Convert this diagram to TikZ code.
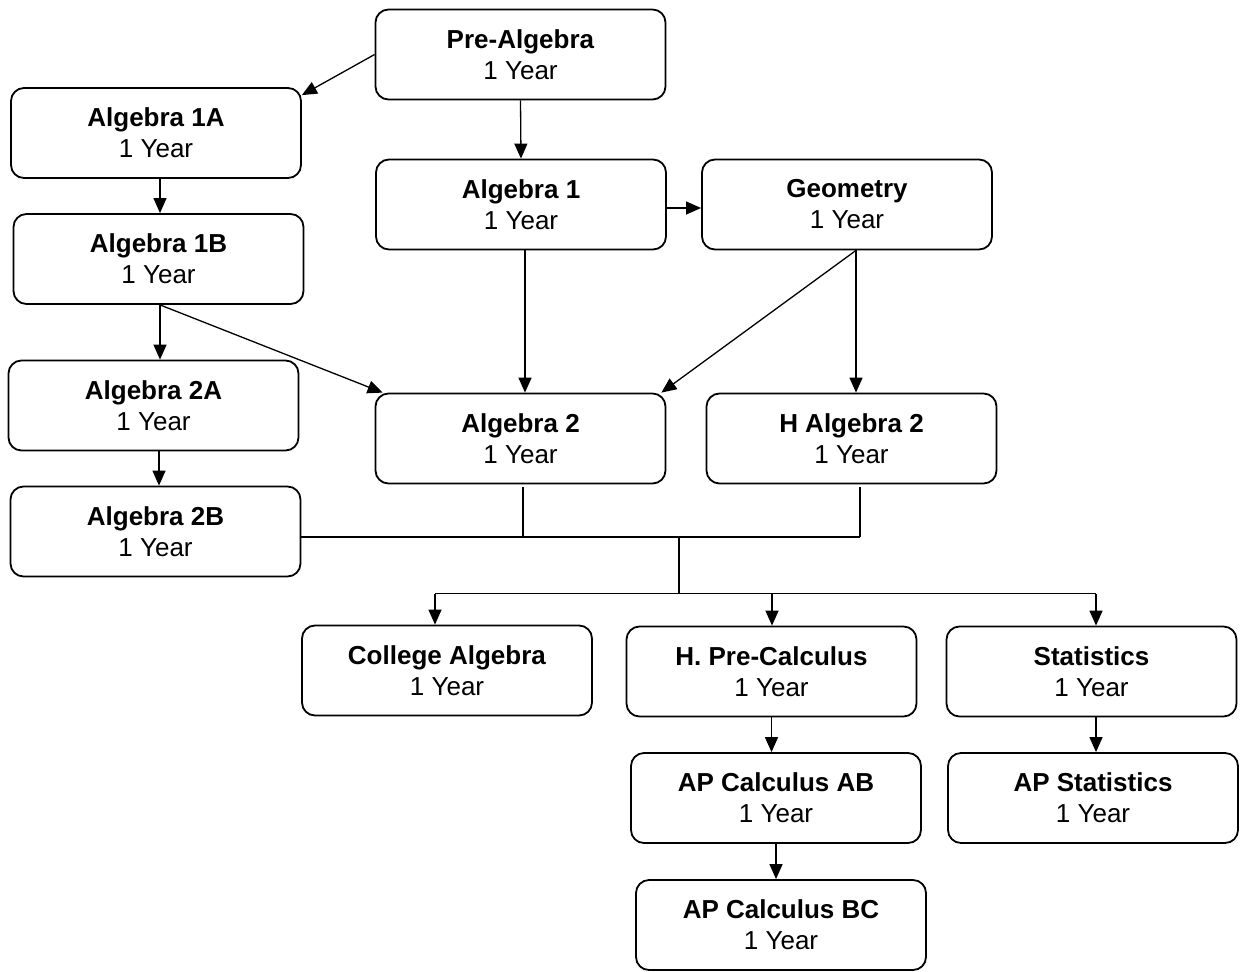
\documentclass[tikz,border=0pt]{standalone}
\usepackage{fontspec}
\setmainfont{Liberation Sans}
\usetikzlibrary{arrows.meta,calc}
\begin{document}
\begin{tikzpicture}[x=1pt,y=-1pt,
  course/.style={draw=black,line width=1.8pt,rounded corners=13pt,minimum width=290pt,minimum height=90pt,
    align=center,inner sep=0pt,font=\fontsize{26}{31}\selectfont},
  conn/.style={draw=black,line width=1.3pt},
  arr/.style={conn,-{Triangle[length=15pt,width=13pt]}}]
\useasboundingbox (0,0) rectangle (1246,971);
\node[course] (pa) at (520.5,54.5) {\textbf{Pre-Algebra}\\1 Year};
\node[course] (a1a) at (156,133) {\textbf{Algebra 1A}\\1 Year};
\node[course] (a1b) at (158.5,259) {\textbf{Algebra 1B}\\1 Year};
\node[course] (a1) at (521,204.5) {\textbf{Algebra 1}\\1 Year};
\node[course] (geo) at (847,204.5) {\textbf{Geometry}\\1 Year};
\node[course] (a2a) at (153.5,405.5) {\textbf{Algebra 2A}\\1 Year};
\node[course] (a2) at (520.5,438.5) {\textbf{Algebra 2}\\1 Year};
\node[course] (ha2) at (851.5,438.5) {\textbf{H Algebra 2}\\1 Year};
\node[course] (a2b) at (155.5,531.5) {\textbf{Algebra 2B}\\1 Year};
\node[course] (ca) at (447,670.5) {\textbf{College Algebra}\\1 Year};
\node[course] (hpc) at (771.5,671.5) {\textbf{H. Pre-Calculus}\\1 Year};
\node[course] (st) at (1091.5,671.5) {\textbf{Statistics}\\1 Year};
\node[course] (ab) at (776,798) {\textbf{AP Calculus AB}\\1 Year};
\node[course] (aps) at (1093,798) {\textbf{AP Statistics}\\1 Year};
\node[course] (bc) at (781,925) {\textbf{AP Calculus BC}\\1 Year};
% helper coordinates
\coordinate (s1a) at ($(a1a.south)+(4,0)$);
\coordinate (e1) at ($(a1.east)+(0,3.5)$);
\coordinate (s1b) at ($(a1b.south)+(1.5,0)$);
\coordinate (s1) at ($(a1.south)+(4,0)$);
\coordinate (gs) at ($(geo.south)+(9,0)$);
\coordinate (s2a) at ($(a2a.south)+(5.5,0)$);
\coordinate (sst) at ($(st.south)+(4.5,0)$);
% connectors
\draw[arr] (pa.west) -- ($(a1a.north east)+(0,8)$);
\draw[arr] (pa.south) -- (a1.north);
\draw[arr] (s1a) -- (s1a |- a1b.north);
\draw[arr] (e1) -- (e1 -| geo.west);
\draw[arr] (s1b) -- (s1b |- a2a.north);
\draw[arr] (s1b) -- ($(a2.north west)+(8,0)$);
\draw[arr] (s1) -- (s1 |- a2.north);
\draw[arr] (gs) -- ($(a2.north east)+(-5,0)$);
\draw[arr] (gs) -- (gs |- ha2.north);
\draw[arr] (s2a) -- (s2a |- a2b.north);
% merge tree
\coordinate (m1) at ($(a2.south)+(2.5,3)$);
\coordinate (m2) at ($(ha2.south)+(8.5,3)$);
\coordinate (hb) at (a2b.east |- 0,537);
\coordinate (j) at (679,537);
\coordinate (k) at (679,594);
\draw[conn] (m1) -- (m1 |- hb);
\draw[conn] (m2) -- (m2 |- hb);
\draw[conn] (hb) -- (m2 |- hb);
\draw[conn] (j) -- (k);
\coordinate (cl) at ($(ca.north)+(-12,-31)$);
\coordinate (cm) at ($(hpc.north)+(0.5,-32)$);
\coordinate (cr) at ($(st.north)+(4.5,-32)$);
\draw[conn] (cl) -- (cr);
\draw[arr] (cl) -- (cl |- ca.north);
\draw[arr] (cm) -- (cm |- hpc.north);
\draw[arr] (cr) -- (cr |- st.north);
\draw[arr] (hpc.south) -- (hpc.south |- ab.north);
\draw[arr] (sst) -- (sst |- aps.north);
\draw[arr] (ab.south) -- (ab.south |- bc.north);
\end{tikzpicture}
\end{document}
